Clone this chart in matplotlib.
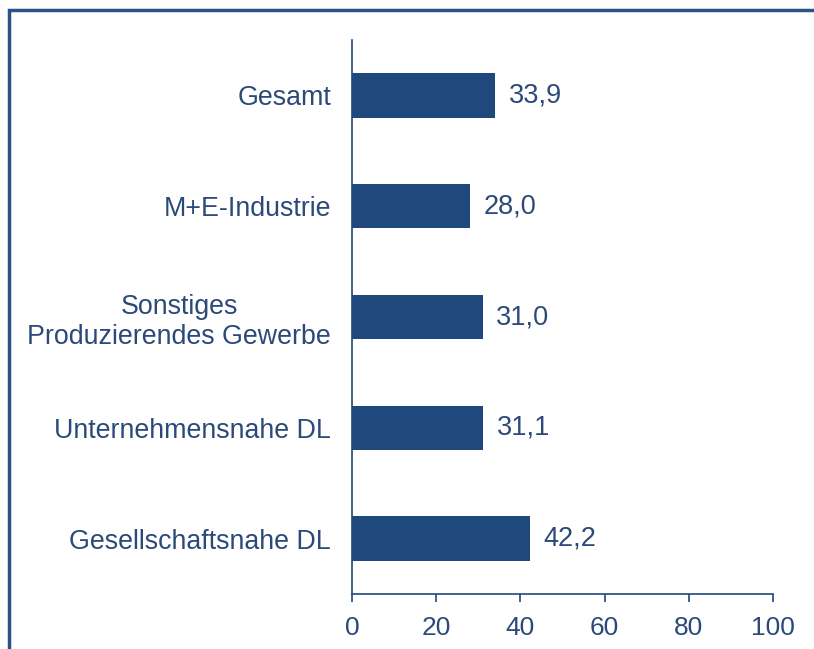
import matplotlib.pyplot as plt
from matplotlib.patches import Rectangle

categories = [
    "Gesamt",
    "M+E-Industrie",
    "Sonstiges\nProduzierendes Gewerbe",
    "Unternehmensnahe DL",
    "Gesellschaftsnahe DL",
]
values = [33.9, 28.0, 31.0, 31.1, 42.2]
value_labels = ["33,9", "28,0", "31,0", "31,1", "42,2"]
x_ticks = [0, 20, 40, 60, 80, 100]

navy = "#1F497D"
text_color = "#2B4A7A"

plt.rcParams["font.family"] = ["Liberation Sans", "DejaVu Sans"]

fig = plt.figure(figsize=(8.14, 6.49), dpi=100)
ax = fig.add_axes([352 / 814, 55 / 649, 421 / 814, 554 / 649])

y_pos = list(range(len(categories)))
ax.barh(y_pos, values, height=0.4, color=navy)
for y, v, lab in zip(y_pos, values, value_labels):
    ax.annotate(lab, (v, y), xytext=(10, 0), textcoords="offset points",
                ha="left", va="center", fontsize=19.5, color=text_color)

ax.set_xlim(0, 100)
ax.set_ylim(len(categories) - 0.5, -0.5)
ax.set_yticks(y_pos)
ax.set_yticklabels(categories, fontsize=19.3, color=text_color,
                   ha="right", multialignment="center")
ax.tick_params(axis="y", length=0, pad=15)
ax.set_xticks(x_ticks)
ax.set_xticklabels([str(t) for t in x_ticks], fontsize=19, color=text_color)
ax.tick_params(axis="x", direction="out", length=6, width=1.2, color=navy, pad=10)

for side in ["top", "right"]:
    ax.spines[side].set_visible(False)
for side in ["left", "bottom"]:
    ax.spines[side].set_color(navy)
    ax.spines[side].set_linewidth(1.2)

# outer frame, only left and top edges visible in the crop
frame = Rectangle((9 / 814, -0.1), 1.2, (649 - 10) / 649 + 0.1,
                  transform=fig.transFigure, fill=False,
                  edgecolor="#2A5286", linewidth=2.5, clip_on=False)
fig.patches.append(frame)

fig.savefig("out.png", dpi=100)
